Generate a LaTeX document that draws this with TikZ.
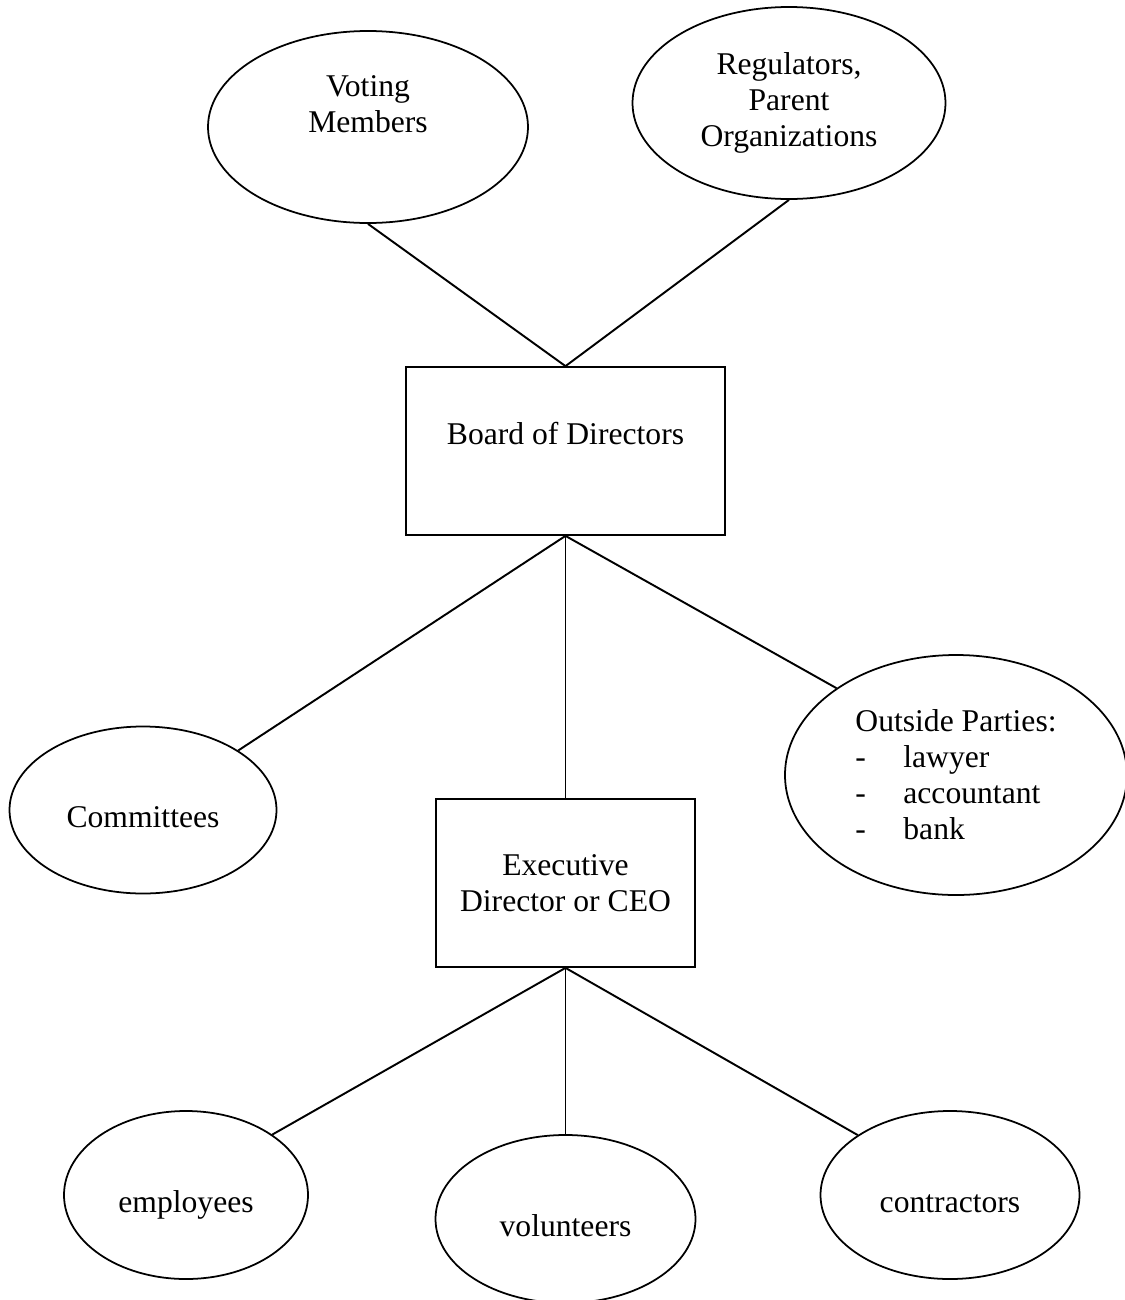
\documentclass[tikz,border=0pt]{standalone}
\usepackage{fontspec}
\setmainfont{Liberation Serif}
\usepackage{tikz}
\usetikzlibrary{shapes.geometric, positioning}

\newcommand{\lowertext}[2]{\raisebox{-#1}[\height][\depth]{#2}}

\begin{document}
\begin{tikzpicture}[
  oval/.style={draw, ellipse, line width=1pt, inner sep=0pt, align=center,
               font=\fontsize{18}{20.5}\selectfont},
  office/.style={draw, rectangle, line width=1pt, inner sep=0pt, align=center,
                 font=\fontsize{18}{20.5}\selectfont},
  caption/.style={inner sep=0pt, align=center, font=\fontsize{18}{20.5}\selectfont},
  link/.style={line width=1.1pt}
]
\useasboundingbox (0,0) rectangle (22.5,-26);

% stakeholders above the board
\node[oval, minimum width=6.4cm, minimum height=3.84cm] (voting) at (7.36,-2.54) {};
\node[caption] (votingtxt) at (7.36,-2.08) {Voting\\Members};

\node[oval, minimum width=6.26cm, minimum height=3.84cm] (regul) at (15.78,-2.06)
  {Regulators,\\Parent\\Organizations};

% the board
\node[office, minimum width=6.38cm, minimum height=3.36cm] (board) at (11.31,-9.02) {};
\node[caption] (boardtxt) at (11.31,-8.68) {Board of Directors};

\node[oval, minimum width=5.34cm, minimum height=3.34cm] (comm) at (2.86,-16.2)
  {\lowertext{0.14cm}{Committees}};

\node[oval, minimum width=6.84cm, minimum height=4.8cm, align=left] (outside) at (19.12,-15.5)
  {Outside Parties:\\
   \makebox[0.96cm][l]{-}lawyer\\
   \makebox[0.96cm][l]{-}accountant\\
   \makebox[0.96cm][l]{-}bank};

\node[office, minimum width=5.18cm, minimum height=3.36cm] (exec) at (11.31,-17.66)
  {Executive\\Director or CEO};

% staff below the executive
\node[oval, minimum width=4.88cm, minimum height=3.36cm] (empl) at (3.72,-23.9)
  {\lowertext{0.2cm}{employees}};
\node[oval, minimum width=5.2cm, minimum height=3.36cm] (volun) at (11.31,-24.38)
  {\lowertext{0.14cm}{volunteers}};
\node[oval, minimum width=5.18cm, minimum height=3.36cm] (contr) at (19.0,-23.9)
  {\lowertext{0.18cm}{contractors}};

\draw[link] (voting.south) -- (board.north);
\draw[link] (regul.south) -- (board.north);

\draw[link] (board.south) -- (comm.32);
\draw[link] (board.south) -- (exec.north);
\draw[link] (board.south) -- (outside.144);

\draw[link] (exec.south) -- (empl.35);
\draw[link] (exec.south) -- (volun.north);
\draw[link] (exec.south) -- (contr.147);

\end{tikzpicture}
\end{document}
